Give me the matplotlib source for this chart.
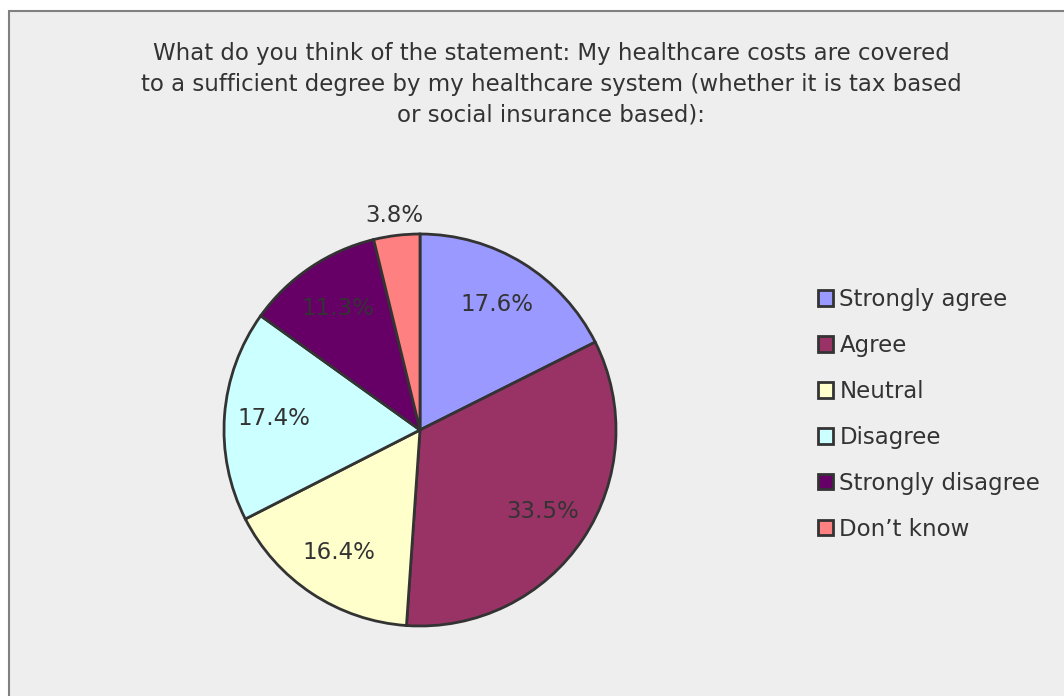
import matplotlib.pyplot as plt
import matplotlib.patches as mpatches
import numpy as np

labels = ['Strongly agree', 'Agree', 'Neutral', 'Disagree', 'Strongly disagree', 'Don\u2019t know']
shares = [17.6, 33.5, 16.4, 17.4, 11.3, 3.8]
colors = ['#9999FF', '#993366', '#FFFFCC', '#CCFFFF', '#660066', '#FF8080']
title = ('What do you think of the statement: My healthcare costs are covered\n'
         'to a sufficient degree by my healthcare system (whether it is tax based\n'
         'or social insurance based):')

W, H = 1064, 696
fig = plt.figure(figsize=(W / 100, H / 100), dpi=100, facecolor='white')

# chart area: grey panel with a border on the left and top
panel = mpatches.Rectangle((8.5 / W, -0.05), 1.1, (H - 10.5) / H + 0.05,
                           transform=fig.transFigure, facecolor='#EEEEEE',
                           edgecolor='#808080', lw=1.5, zorder=-5)
fig.patches.append(panel)

txtcol = '#333333'
fs = 16.5
fig.text(551 / W, 1 - 42 / H, title, ha='center', va='top', fontsize=fs,
         color=txtcol, linespacing=1.42)

# pie axes, centre ~ (420, 430), radius ~ 196 px
r = 196
ax = fig.add_axes([(420 - r) / W, (H - 430 - r) / H, 2 * r / W, 2 * r / H])
ax.set_facecolor('none')
wedges, _, autotexts = ax.pie(shares, colors=colors, startangle=90, counterclock=False,
                              autopct='%1.1f%%', pctdistance=0.75,
                              wedgeprops=dict(edgecolor='#333333', linewidth=2),
                              textprops=dict(fontsize=fs, color=txtcol))
ax.set_xlim(-1, 1)
ax.set_ylim(-1, 1)
ax.set_aspect('equal')
ax.axis('off')

# smallest slice gets its label outside the pie
w = wedges[-1]
mid = np.deg2rad((w.theta1 + w.theta2) / 2)
autotexts[-1].set_position((1.1 * np.cos(mid), 1.1 * np.sin(mid)))

handles = [mpatches.Patch(facecolor=c, edgecolor='#333333', lw=2) for c in colors]
leg = fig.legend(handles, labels, loc='upper left', bbox_to_anchor=(809 / W, 1 - 279 / H),
                 frameon=False, fontsize=fs, handlelength=0.65, handleheight=0.65,
                 handletextpad=0.28, labelspacing=1.0, borderaxespad=0)
for t in leg.get_texts():
    t.set_color(txtcol)

fig.savefig('out.png', dpi=100, facecolor='white')
